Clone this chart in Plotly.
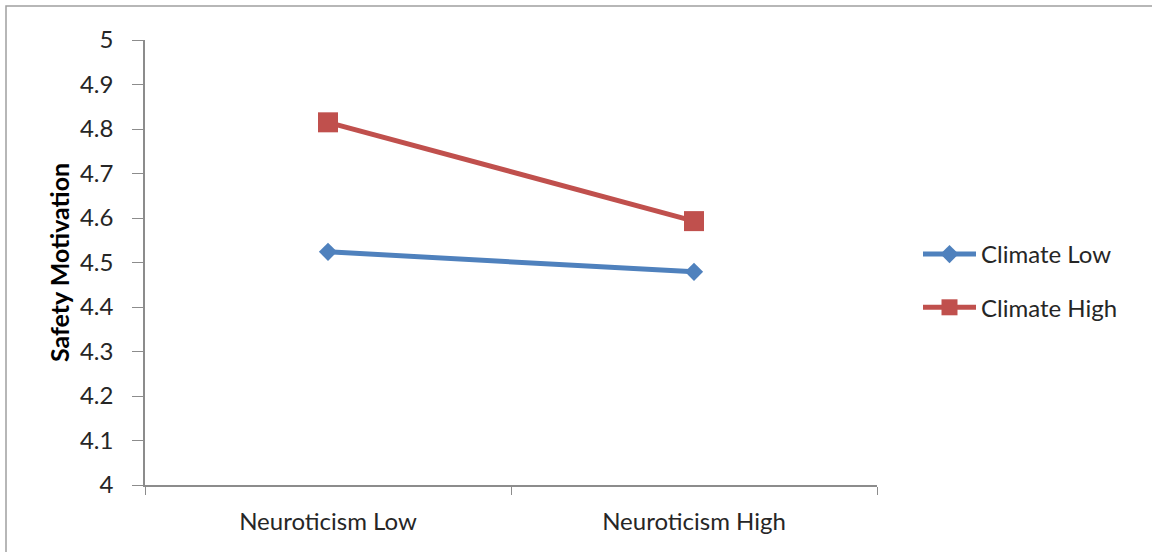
import plotly.graph_objects as go

# Interaction plot: safety motivation by neuroticism level and safety climate
neuroticism = ["Neuroticism Low", "Neuroticism High"]
climate_low = [4.524, 4.479]
climate_high = [4.815, 4.593]
y_ticks = [4.0, 4.1, 4.2, 4.3, 4.4, 4.5, 4.6, 4.7, 4.8, 4.9, 5.0]

W, H = 1152, 552
L, R, T, B = 145, 275, 40, 67
pw, ph = W - L - R, H - T - B

FONT = "Lato"
AXIS_GREY = "#8c8c8c"
FS = 24

fig = go.Figure()
fig.add_trace(go.Scatter(
    x=neuroticism, y=climate_low, name="Climate Low", mode="lines+markers",
    line=dict(color="#4F81BD", width=5),
    marker=dict(symbol="diamond", size=14, color="#4F81BD"),
    legendgroup="a",
))
fig.add_trace(go.Scatter(
    x=neuroticism, y=climate_high, name="Climate High", mode="lines+markers",
    line=dict(color="#C0504D", width=5),
    marker=dict(symbol="square", size=20, color="#C0504D"),
    legendgroup="b",
))

# outer chart frame (extends past the right and bottom edges)
fig.add_shape(
    type="rect", xref="paper", yref="paper",
    x0=(6 - L) / pw, x1=(W + 20 - L) / pw,
    y0=-(B + 20) / ph, y1=(H - B - 6) / ph,
    line=dict(color="#a0a0a0", width=1.5), fillcolor="rgba(0,0,0,0)",
    layer="below",
)

fig.update_layout(
    width=W, height=H,
    margin=dict(l=L, r=R, t=T, b=B),
    paper_bgcolor="white", plot_bgcolor="white",
    font=dict(family=FONT, size=FS, color="#262626"),
    showlegend=True,
    legend=dict(
        x=(918 - L) / pw, y=(H - B - 281) / ph, xanchor="left", yanchor="middle",
        font=dict(family=FONT, size=FS, color="#262626"),
        tracegroupgap=19, itemwidth=53, bgcolor="rgba(0,0,0,0)",
    ),
    xaxis=dict(
        type="category", range=[-0.5, 1.5],
        showline=True, linecolor=AXIS_GREY, linewidth=1.5,
        ticks="outside", tickson="boundaries", ticklen=8, tickcolor=AXIS_GREY,
        showgrid=False, zeroline=False,
        ticklabelstandoff=14,
    ),
    yaxis=dict(
        range=[4, 5], tickvals=y_ticks, ticktext=[f"{v:g}" for v in y_ticks],
        showline=True, linecolor=AXIS_GREY, linewidth=1.5,
        ticks="outside", ticklen=11, tickcolor=AXIS_GREY,
        showgrid=False, zeroline=False,
        ticklabelstandoff=14,
        title=dict(text="<b>Safety Motivation</b>", font=dict(family=FONT, size=25, color="#000000"),
                   standoff=3),
    ),
)

fig.write_html("out.html")
